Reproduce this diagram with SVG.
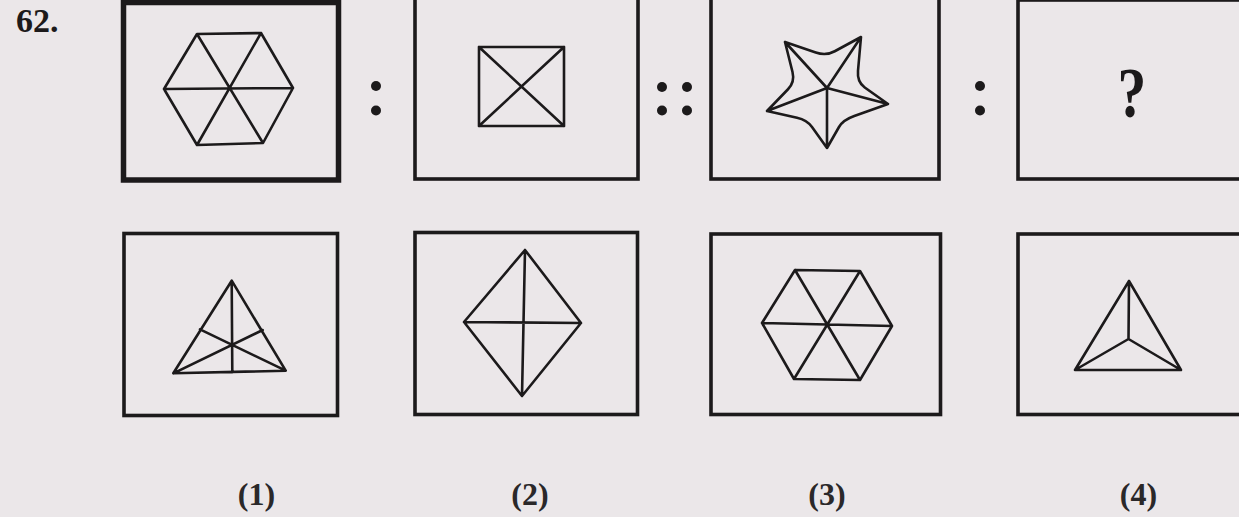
<svg xmlns="http://www.w3.org/2000/svg" width="1239" height="517" viewBox="0 0 1239 517">
<style>
.bg{fill:#ebe7e9}
.box{fill:none;stroke:#1c1a1b;stroke-width:3.6}
.box1{fill:none;stroke:#1c1a1b;stroke-width:5.5}
.fig{fill:none;stroke:#1c1a1b;stroke-width:2.6;stroke-linejoin:round;stroke-linecap:round}
.dot{fill:#1c1a1b}
.num{font-family:"Liberation Serif","Times New Roman",serif;font-weight:bold;fill:#1c1a1b}
.lbl{font-family:"Liberation Serif","Times New Roman",serif;font-weight:bold;font-size:32px;fill:#2a2829;text-anchor:middle}
</style>
<rect class="bg" x="0" y="0" width="1239" height="517"/>
<text class="num" x="16" y="31.5" font-size="34">62.</text>

<g id="q1">
<rect class="box1" x="123.5" y="2.5" width="215" height="177.5"/>
<path class="fig" d="M164,89 L197,34 L261,33 L293,88 L263,143 L197,145 Z M197,34 L263,143 M261,33 L197,145 M164,89 L293,88"/>
</g>
<g id="colon1">
<circle class="dot" cx="376" cy="86" r="5"/>
<circle class="dot" cx="376" cy="110.5" r="5"/>
</g>
<g id="q2">
<rect class="box" x="415" y="-3" width="223" height="182"/>
<path class="fig" d="M479,47 L564,47 L564,126 L479,126 Z M479,47 L564,126 M564,47 L479,126"/>
</g>
<g id="dcolon">
<circle class="dot" cx="662" cy="87" r="5"/>
<circle class="dot" cx="687" cy="87" r="5"/>
<circle class="dot" cx="662" cy="110.5" r="5"/>
<circle class="dot" cx="687" cy="110.5" r="5"/>
</g>
<g id="q3">
<rect class="box" x="711" y="-3" width="228" height="182"/>
<path class="fig" d="M785,42 L815.75,52.5 Q826,56 834.75,51.25 L861,37 L858,70.75 Q857,82 864.75,87.5 L888,104 L854.25,116 Q843,120 839,127 L827,148 L812,127 Q807,120 797,117.75 L767,111 L788,89.25 Q795,82 792.5,72 Z M827,88 L785,42 M827,88 L861,37 M827,88 L888,104 M827,88 L827,148 M827,88 L767,111"/>
</g>
<g id="colon2">
<circle class="dot" cx="980" cy="86" r="5"/>
<circle class="dot" cx="980" cy="110.5" r="5"/>
</g>
<g id="q4">
<rect class="box" x="1018" y="0" width="230" height="179"/>
<text class="num" font-size="72" text-anchor="middle" transform="translate(1132,117) scale(0.8,1)">?</text>
</g>

<g id="opt1">
<rect class="box" x="124" y="233.5" width="213.5" height="182"/>
<path class="fig" d="M231.7,280.7 L285.7,370.7 L173.3,373.3 Z M231.7,280.7 L232.3,372.3 M173.3,373.3 L262.7,330 M285.7,370.7 L200,329.3"/>
</g>
<g id="opt2">
<rect class="box" x="415" y="232.5" width="222.5" height="182"/>
<path class="fig" d="M525,250 L581,323 L522,396 L464,322 Z M525,250 L522,396 M464,322 L581,323"/>
</g>
<g id="opt3">
<rect class="box" x="711" y="234" width="229.5" height="180.5"/>
<path class="fig" d="M762,323 L795,270 L860,271 L892,326 L860,380 L794,379 Z M795,270 L860,380 M860,271 L794,379 M762,323 L892,326"/>
</g>
<g id="opt4">
<rect class="box" x="1018" y="234" width="230" height="180.5"/>
<path class="fig" d="M1129,281 L1181,370 L1075,370 Z M1129,281 L1128.5,339 M1128.5,339 L1075,370 M1128.5,339 L1181,370"/>
</g>

<g id="labels">
<text class="lbl" x="256.5" y="505">(1)</text>
<text class="lbl" x="530" y="505">(2)</text>
<text class="lbl" x="827" y="505">(3)</text>
<text class="lbl" x="1138.5" y="505">(4)</text>
</g>
</svg>
